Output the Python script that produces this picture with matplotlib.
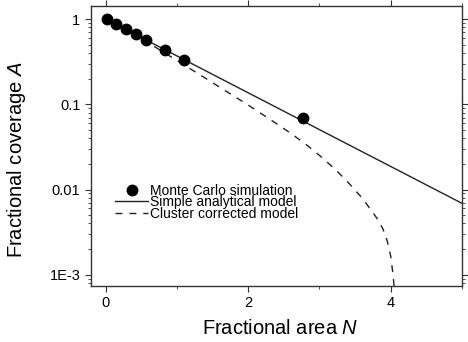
import numpy as np
import matplotlib
matplotlib.use("Agg")
import matplotlib.pyplot as plt
from matplotlib.ticker import LogLocator, NullFormatter, MultipleLocator

plt.rcParams['font.family'] = ['Liberation Sans', 'DejaVu Sans']
plt.rcParams['mathtext.fontset'] = 'custom'
plt.rcParams['mathtext.it'] = 'Liberation Sans:italic'
plt.rcParams['mathtext.rm'] = 'Liberation Sans'

# Monte Carlo points
mc_N = [0.02, 0.14, 0.28, 0.42, 0.56, 0.83, 1.10, 2.77]
mc_A = [1.0, 0.87, 0.76, 0.67, 0.57, 0.43, 0.33, 0.069]

# simple analytical model (straight on log axis)
simple_N = [0.0, 5.0]
simple_A = [1.0, 0.0069]

# cluster corrected model
cluster_N = [0.0, 0.30, 0.64, 0.98, 1.20, 1.44, 1.62, 1.84, 2.02, 2.23, 2.44,
             2.63, 2.84, 3.03, 3.23, 3.42, 3.61, 3.81, 3.89, 3.95, 4.00,
             4.03, 4.05]
cluster_A = [1.0, 0.733, 0.501, 0.335, 0.257, 0.193, 0.155, 0.119, 0.0955,
             0.0733, 0.0562, 0.0437, 0.0324, 0.0240, 0.0170, 0.0117, 0.00776,
             0.00457, 0.00347, 0.00251, 0.00166, 0.00105, 0.00071]

ytick_vals = [1, 0.1, 0.01, 0.001]
ytick_labels = ['1', '0.1', '0.01', '1E-3']

fig = plt.figure(figsize=(4.68, 3.42), dpi=100)
ax = fig.add_axes([0.194, 0.164, 0.793, 0.818])

ax.plot(mc_N, mc_A, 'o', color='black', markersize=7.5, zorder=3,
        label='Monte Carlo simulation')
ax.plot(simple_N, simple_A, '-', color='#222222', lw=1.0,
        label='Simple analytical model')
ax.plot(cluster_N, cluster_A, '--', color='#222222', lw=1.0,
        dashes=(5, 5), label='Cluster corrected model')

ax.set_yscale('log')
ax.set_xlim(-0.21, 5.0)
ax.set_ylim(7.4e-4, 1.42)

ax.set_xticks([0, 2, 4])
ax.xaxis.set_minor_locator(MultipleLocator(1))
ax.set_yticks(ytick_vals, ytick_labels)
ax.yaxis.set_minor_locator(LogLocator(base=10, subs=np.arange(2, 10)))
ax.yaxis.set_minor_formatter(NullFormatter())

ax.tick_params(which='both', direction='out', top=True, right=True,
               labelsize=10.5, color='#333333')
ax.tick_params(which='major', length=4, width=0.8)
ax.tick_params(which='minor', length=2.5, width=0.6)
for s in ax.spines.values():
    s.set_linewidth(1.0)
    s.set_color('#333333')

ax.set_xlabel(r'Fractional area $\mathit{N}$', fontsize=14.5)
ax.set_ylabel(r'Fractional coverage $\mathit{A}$', fontsize=14.5)
ax.xaxis.set_label_coords(0.51, -0.118)
ax.yaxis.set_label_coords(-0.170, 0.45)

# tight rows, no frame
ax.legend(loc='upper left', bbox_to_anchor=(0.065, 0.366), frameon=False,
          fontsize=10, handlelength=2.4, handletextpad=0.15,
          labelspacing=-0.16, borderpad=0, borderaxespad=0)

fig.savefig('out.png', dpi=100)
